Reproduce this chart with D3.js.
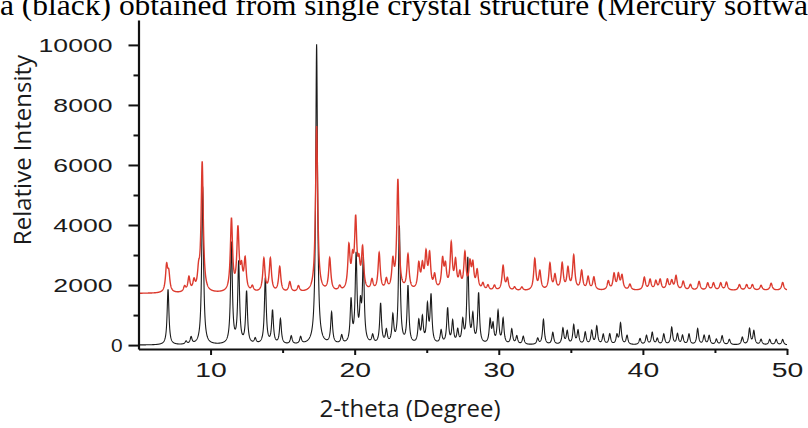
<!DOCTYPE html>
<html>
<head>
<meta charset="utf-8">
<script src="https://cdn.jsdelivr.net/npm/d3@7"></script>
<style>
  html, body { margin: 0; padding: 0; background: #fff; overflow: hidden; }
  svg { display: block; }
</style>
</head>
<body>
<svg id="chart" width="808" height="428"></svg>
<script>
// Axis ticks
const xTicks = [10, 20, 30, 40, 50];
const xMinorTicks = [15, 25, 35, 45];
const yTicks = [0, 2000, 4000, 6000, 8000, 10000];
const yMinorTicks = [1000, 3000, 5000, 7000, 9000];

// Simulated pattern (black): peak positions (2-theta) and peak heights
const simPos = [7.05, 8.3, 8.65, 9.45, 11.45, 11.95, 12.5, 13.1, 13.8, 14.3, 14.85, 15.6, 16.25,
  17.36, 18.4, 19.1, 19.75, 20.1, 20.4, 20.6, 21.25, 21.8, 22.2, 22.65, 23.1, 23.7, 24.45, 24.7,
  25.05, 25.3, 26.0, 26.45, 26.8, 27.15, 27.5, 27.85, 28.2, 28.6, 29.4, 29.6, 29.95, 30.3, 30.9,
  31.25, 31.7, 32.7, 33.1, 33.75, 34.45, 34.75, 35.2, 35.5, 36.0, 36.45, 36.8, 37.25, 37.7, 38.2,
  38.45, 38.9, 39.8, 40.25, 40.65, 41.0, 41.45, 42.0, 42.4, 42.75, 43.2, 43.8, 44.25, 44.6, 45.1,
  45.5, 46.0, 46.9, 47.4, 47.7, 48.2, 48.8, 49.25, 49.7];
const simInt = [1850, 100, 230, 5270, 3370, 2700, 1730, 170, 2200, 1100, 830, 270, 230,
  10000, 1030, 270, 1400, 2900, 1100, 2700, 270, 1330, 430, 900, 3900, 1900, 730, 830,
  1230, 1570, 430, 1170, 730, 430, 730, 2830, 900, 1670, 770, 600, 1070, 830, 500,
  270, 270, 200, 830, 400, 530, 430, 630, 450, 400, 450, 600, 330, 350, 300,
  700, 300, 200, 300, 400, 200, 350, 570, 350, 300, 350, 530, 300, 300, 180,
  300, 180, 250, 530, 450, 180, 180, 180, 180];

// Experimental pattern (red): peak positions, apex readings, and background level
const expPos = [6.95, 7.1, 8.2, 8.5, 8.85, 9.17, 9.42, 11.45, 11.9, 12.15, 12.4, 12.9, 13.7, 14.15,
  14.8, 15.5, 16.1, 17.36, 18.27, 18.96, 19.6, 19.85, 20.07, 20.3, 20.55, 21.2, 21.7, 22.2, 22.65,
  23.0, 23.7, 24.45, 24.7, 24.95, 25.2, 25.55, 26.1, 26.3, 26.7, 27.0, 27.3, 27.65, 28.0, 28.2,
  28.5, 28.9, 29.25, 29.7, 30.3, 30.6, 31.1, 31.6, 32.5, 32.85, 33.55, 33.9, 34.4, 34.8, 35.2,
  35.75, 36.2, 36.6, 37.6, 38.0, 38.3, 38.55, 39.1, 40.1, 40.5, 40.9, 41.2, 41.7, 42.0, 42.3,
  42.8, 43.3, 43.9, 44.5, 44.9, 45.4, 45.8, 46.7, 47.2, 47.6, 48.2, 48.9, 49.7];
const expApex = [2570, 2300, 1900, 2200, 2050, 2270, 6030, 4130, 3770, 2400, 2770, 1900, 2830, 2830,
  2570, 2070, 1930, 7270, 2830, 1900, 3170, 2600, 4000, 2500, 3100, 2100, 3000, 2100, 2670,
  5430, 2930, 2600, 2500, 2900, 2900, 2230, 2730, 2500, 3270, 2670, 2270, 2970, 2600, 2570,
  2400, 2000, 1950, 1950, 2600, 2170, 1900, 1900, 2830, 2400, 2670, 2270, 2670, 2500, 2930,
  2430, 2230, 2230, 2100, 2330, 2300, 2270, 2000, 2230, 2150, 2100, 2150, 2150, 2100, 2270,
  2100, 2000, 2100, 2050, 2050, 2050, 2080, 2000, 2000, 2000, 1980, 2050, 2080];
const bgPos = [5, 10, 15, 20, 25, 30, 35, 40, 45, 50];
const bgVal = [1720, 1720, 1730, 1750, 1770, 1780, 1800, 1810, 1810, 1820];

const simHWHM = 0.075;
const expHWHM = 0.09;

const svg = d3.select("#chart");
const x = d3.scaleLinear().domain([5, 50]).range([138.5, 787]);
const y = d3.scaleLinear().domain([-130, 10830]).range([349, 20]);

const background = d3.scaleLinear().domain(bgPos).range(bgVal);

// Lorentzian peak profile summed over the peak list
function profile(pos, amp, hwhm, base) {
  const grid = d3.range(5, 50.0001, 0.01);
  return grid.map(t => {
    let v = base(t);
    for (let i = 0; i < pos.length; i++) {
      const d = (t - pos[i]) / hwhm;
      v += amp[i] / (1 + d * d);
    }
    return [t, v];
  });
}

const simData = profile(simPos, simInt, simHWHM, () => 0);
const expAmp = expApex.map((v, i) => v - background(expPos[i]));
const expData = profile(expPos, expAmp, expHWHM, background);

const line = d3.line().x(d => x(d[0])).y(d => y(d[1]));

svg.append("path").datum(simData)
  .attr("d", line).attr("fill", "none")
  .attr("stroke", "#1b1b1b").attr("stroke-width", 1.1);
svg.append("path").datum(expData)
  .attr("d", line).attr("fill", "none")
  .attr("stroke", "#dc3a2e").attr("stroke-width", 1.4);

// Axes
const axisColor = "#111";
const xAxisG = svg.append("g").attr("transform", `translate(0,${y(-130)})`)
  .call(d3.axisBottom(x).tickValues(xTicks).tickSize(6).tickSizeOuter(0).tickFormat(d3.format("d")));
svg.append("g").attr("transform", `translate(0,${y(-130)})`)
  .call(d3.axisBottom(x).tickValues(xMinorTicks).tickSize(4).tickFormat(""))
  .call(g => g.select(".domain").remove());

const yAxisG = svg.append("g").attr("transform", `translate(${x(5)},0)`)
  .call(d3.axisLeft(y).tickValues(yTicks).tickSize(10).tickSizeOuter(0).tickFormat(d3.format("d")));
svg.append("g").attr("transform", `translate(${x(5)},0)`)
  .call(d3.axisLeft(y).tickValues(yMinorTicks).tickSize(5).tickFormat(""))
  .call(g => g.select(".domain").remove());

svg.selectAll(".domain").attr("stroke", axisColor).attr("stroke-width", 2.2);
svg.selectAll(".tick line").attr("stroke", axisColor).attr("stroke-width", 2);

xAxisG.selectAll(".tick text")
  .attr("font-family", "'Liberation Sans', Arial, sans-serif")
  .attr("font-size", 21).attr("fill", "#1a1a1a")
  .attr("y", 28).attr("dy", 0)
  .attr("transform", "scale(1.35,1)");

const ySx = 1.4;
yAxisG.selectAll(".tick text")
  .attr("font-family", "'Liberation Sans', Arial, sans-serif")
  .attr("font-size", 19).attr("fill", "#1a1a1a")
  .attr("x", d => d === 0 ? -16 / 1.1 : -26 / ySx)
  .attr("dy", "0.36em")
  .attr("transform", d => d === 0 ? "scale(1.1,1)" : `scale(${ySx},1)`);

// Axis titles
svg.append("text")
  .attr("transform", "translate(31,150) rotate(-90)")
  .attr("text-anchor", "middle")
  .attr("font-family", "'Open Sans', sans-serif")
  .attr("font-size", 24).attr("fill", "#1a1a1a")
  .text("Relative Intensity");

svg.append("text")
  .attr("x", 410).attr("y", 417)
  .attr("text-anchor", "middle")
  .attr("font-family", "'Open Sans', sans-serif")
  .attr("font-size", 24).attr("fill", "#1a1a1a")
  .text("2-theta (Degree)");

// Caption line running across the top edge
const caption = svg.append("text")
  .attr("x", 0).attr("y", 15)
  .attr("font-family", "'Liberation Serif', 'Times New Roman', serif")
  .attr("font-size", 30).attr("fill", "#000")
  .text("a (black) obtained from single crystal structure (Mercury software).");
const capNode = caption.node();
const visibleChars = "a (black) obtained from single crystal structure (Mercury softwa".length;
const capLen = capNode.getSubStringLength(0, visibleChars);
caption.attr("transform", `scale(${808 / capLen},1)`);
</script>
</body>
</html>
